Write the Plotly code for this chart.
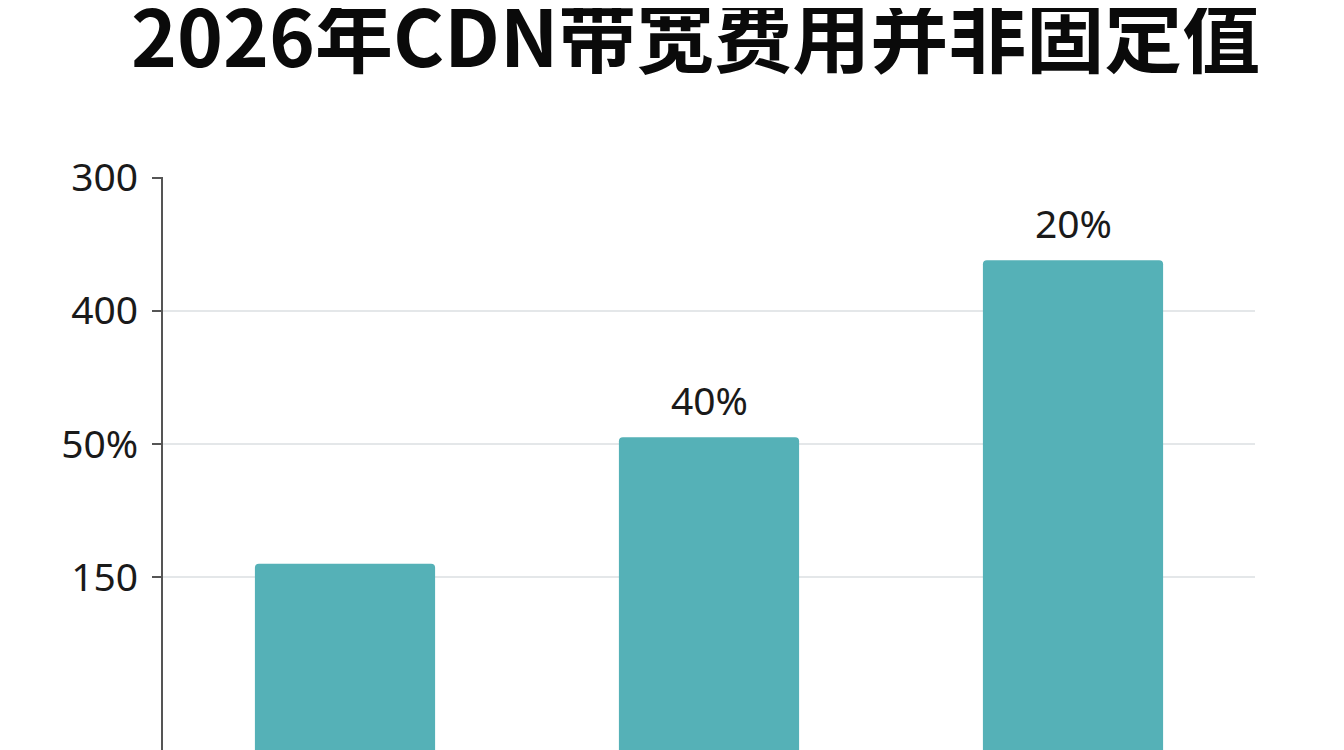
import plotly.graph_objects as go

title = "2026年CDN带宽费用并非固定值"
categories = ["A", "B", "C"]
values = [140, 235, 368]
bar_labels = ["", "40%", "20%"]
tick_vals = [130, 230, 330, 430]
tick_text = ["150", "50%", "400", "300"]

bar_color = "#55b1b7"

fig = go.Figure()
fig.add_trace(go.Bar(x=categories, y=values, width=0.495,
                     marker=dict(color=bar_color, cornerradius=4, line=dict(width=0)),
                     hoverinfo="skip"))

# value labels above the bars
for c, v, t in zip(categories, values, bar_labels):
    if t:
        fig.add_annotation(x=c, y=v, text=t, showarrow=False, yanchor="bottom", yshift=9,
                           font=dict(family="Noto Sans", size=39, color="#1a1a1a"))

fig.add_annotation(xref="paper", yref="paper", x=0.488, y=1.252, xanchor="center", yanchor="middle",
                   text="<b>" + title + "</b>", showarrow=False,
                   font=dict(family="Noto Sans CJK SC", size=78, color="#0a0a0a"))

fig.update_layout(
    width=1344, height=750,
    margin=dict(l=155, r=97, t=169, b=8),
    paper_bgcolor="white", plot_bgcolor="white",
    showlegend=False, bargap=0.5,
    xaxis=dict(range=[-0.5, 2.5], showticklabels=False, showgrid=False, zeroline=False,
               showline=False, ticks=""),
    yaxis=dict(range=[0, 430.5], tickvals=tick_vals, ticktext=tick_text,
               showgrid=True, gridcolor="#e4e7e9", gridwidth=1.5, zeroline=False,
               showline=True, linecolor="#555555", linewidth=2,
               ticks="outside", ticklen=9, tickcolor="#555555", tickwidth=1.5,
               ticklabelstandoff=6,
               tickfont=dict(family="Noto Sans", size=39, color="#1a1a1a")),
)

fig.write_html("out.html")
